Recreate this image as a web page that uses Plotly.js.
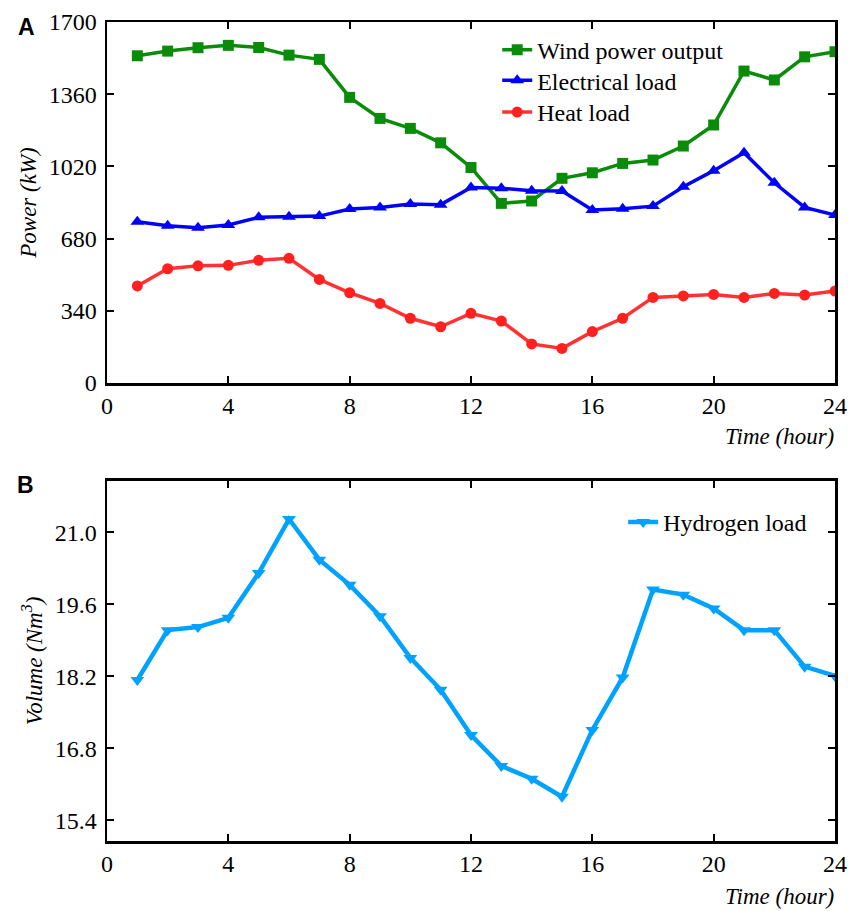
<!DOCTYPE html>
<html>
<head>
<meta charset="utf-8">
<script src="https://cdn.plot.ly/plotly-3.0.1.min.js"></script>
<style>html,body{margin:0;padding:0;background:#fff;}#chart{width:848px;height:911px;}</style>
</head>
<body>
<div id="chart"></div>
<script>
// ---- data ----
var hours = [1,2,3,4,5,6,7,8,9,10,11,12,13,14,15,16,17,18,19,20,21,22,23,24];
var windPower = [1541,1563,1579,1590,1580,1544,1524,1345,1246,1199,1131,1015,846,857,964,990,1034,1050,1116,1215,1469,1427,1536,1560];
var electricalLoad = [759,741,731,744,780,783,786,819,827,843,840,921,917,905,904,815,821,833,924,1000,1084,943,827,791];
var heatLoad = [457,538,552,554,578,587,488,425,375,305,265,328,292,184,163,242,305,403,410,417,403,422,414,433];
var hydrogenLoad = [18.13,19.10,19.16,19.34,20.21,21.26,20.47,19.98,19.37,18.56,17.94,17.06,16.46,16.21,15.86,17.16,18.18,19.89,19.79,19.52,19.10,19.10,18.39,18.21];
var xTicks = [0,4,8,12,16,20,24];
var powerTicks = [0,340,680,1020,1360,1700];
var volumeTicks = [15.4,16.8,18.2,19.6,21.0];

var serif = '"Liberation Serif", "Times New Roman", serif';
var traces = [
  {x: hours, y: windPower, name: 'Wind power output', type: 'scatter', mode: 'lines+markers',
   line: {color: '#0a8c0a', width: 3.5}, marker: {symbol: 'square', size: 11, color: '#0a8c0a'},
   xaxis: 'x', yaxis: 'y', legend: 'legend'},
  {x: hours, y: electricalLoad, name: 'Electrical load', type: 'scatter', mode: 'lines+markers',
   line: {color: '#0000ff', width: 3.5}, marker: {symbol: 'triangle-up', size: 12, color: '#0000ff'},
   xaxis: 'x', yaxis: 'y', legend: 'legend3'},
  {x: hours, y: heatLoad, name: 'Heat load', type: 'scatter', mode: 'lines+markers',
   line: {color: '#ff3333', width: 3.5}, marker: {symbol: 'circle', size: 11, color: '#ff2020'},
   xaxis: 'x', yaxis: 'y', legend: 'legend4'},
  {x: hours, y: hydrogenLoad, name: 'Hydrogen load', type: 'scatter', mode: 'lines+markers',
   line: {color: '#00a2ff', width: 4.5}, marker: {symbol: 'triangle-down', size: 12, color: '#00a2ff'},
   xaxis: 'x2', yaxis: 'y2', legend: 'legend2'}
];

var axisCommon = {
  showgrid: false, zeroline: false, showline: true, linecolor: '#000', linewidth: 2.5,
  mirror: 'ticks', ticks: 'inside', ticklen: 7, tickwidth: 2, tickcolor: '#000',
  tickfont: {family: serif, size: 24, color: '#000'}
};

function ax(extra) { return Object.assign({}, axisCommon, extra); }
function leg(x, y) {
  return {x: x, y: y, xanchor: 'left', yanchor: 'top', bgcolor: 'rgba(0,0,0,0)',
    font: {family: serif, size: 24, color: '#000'}};
}

var layout = {
  width: 848, height: 911,
  margin: {l: 107, r: 13, t: 22, b: 70},
  paper_bgcolor: '#fff', plot_bgcolor: '#fff',
  showlegend: true,
  xaxis: ax({domain: [0, 1], range: [0, 24], tickvals: xTicks, anchor: 'y', ticklabelstandoff: 0}),
  yaxis: ax({domain: [0.5592, 1], range: [0, 1700], tickvals: powerTicks, anchor: 'x', ticklabelstandoff: 3,
    title: {text: 'Power (kW)', standoff: 6, font: {family: serif, size: 23, color: '#000', style: 'italic'}}}),
  xaxis2: ax({domain: [0, 1], range: [0, 24], tickvals: xTicks, anchor: 'y2', ticklabelstandoff: 0}),
  yaxis2: ax({domain: [0, 0.4396], range: [15.0, 22.0], tickvals: volumeTicks, tickformat: '.1f', anchor: 'x2', ticklabelstandoff: 3,
    title: {text: 'Volume (Nm<sup>3</sup>)', standoff: 6, font: {family: serif, size: 23, color: '#000', style: 'italic'}}}),
  legend: leg(0.536, 0.993),
  legend3: leg(0.536, 0.956),
  legend4: leg(0.536, 0.917),
  legend2: leg(0.709, 0.4164),
  annotations: [
    {text: '<b>A</b>', xref: 'paper', yref: 'paper', x: -0.111, y: 0.9939, xanchor: 'center', yanchor: 'middle',
     showarrow: false, font: {family: '"Liberation Sans", Arial, sans-serif', size: 23, color: '#000'}},
    {text: '<b>B</b>', xref: 'paper', yref: 'paper', x: -0.112, y: 0.4347, xanchor: 'center', yanchor: 'middle',
     showarrow: false, font: {family: '"Liberation Sans", Arial, sans-serif', size: 23, color: '#000'}},
    {text: '<i>Time (hour)</i>', xref: 'paper', yref: 'paper', x: 1.0014, y: 0.4945, xanchor: 'right', yanchor: 'middle',
     showarrow: false, font: {family: serif, size: 23, color: '#000'}},
    {text: '<i>Time (hour)</i>', xref: 'paper', yref: 'paper', x: 1.0014, y: -0.0672, xanchor: 'right', yanchor: 'middle',
     showarrow: false, font: {family: serif, size: 23, color: '#000'}}
  ]
};

Plotly.newPlot('chart', traces, layout, {displayModeBar: false, staticPlot: true});
</script>
</body>
</html>
